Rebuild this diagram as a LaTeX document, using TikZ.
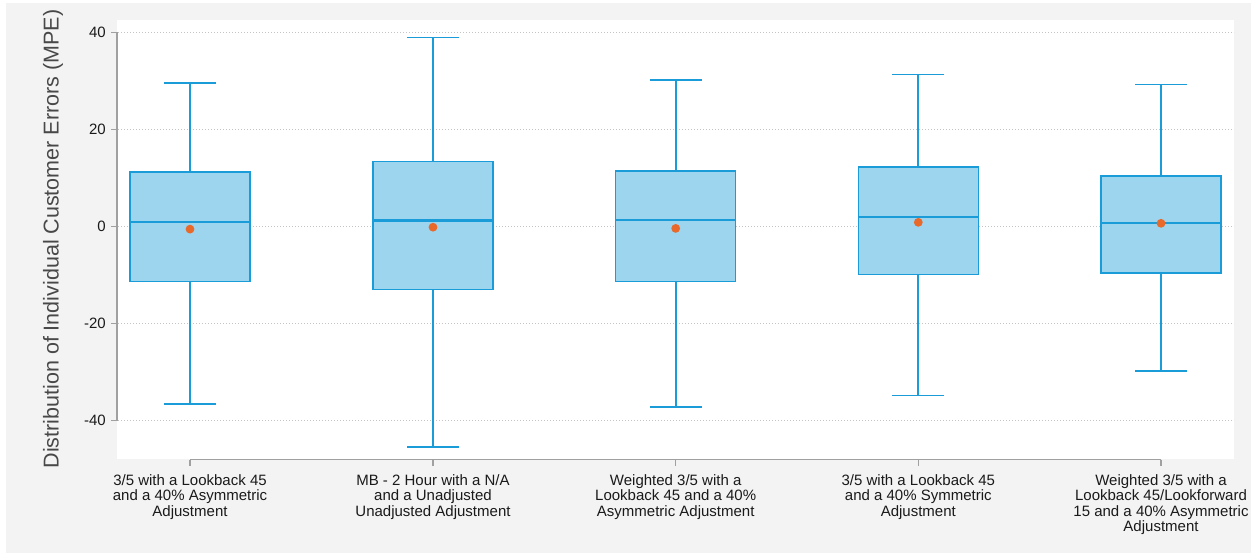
\documentclass[tikz,border=0pt]{standalone}
\usepackage{fontspec}
\setmainfont{Liberation Sans}
\definecolor{bgc}{HTML}{F3F3F3}
\definecolor{boxfill}{HTML}{9DD4EE}
\definecolor{boxedge}{HTML}{1A9CD8}
\definecolor{meanc}{HTML}{E8692A}
\definecolor{gridc}{HTML}{C4C4C4}
\definecolor{axisc}{HTML}{A0A0A0}
\definecolor{txtc}{HTML}{1A1A1A}
\tikzset{
  gridline/.style={gridc, line width=1.1pt, dash pattern=on 1pt off 2pt},
  axisline/.style={axisc, line width=1.3pt},
  medline/.style={boxedge, line width=2.4pt},
  whisk/.style={boxedge, line width=1.8pt},
  meandot/.style={circle, fill=meanc, inner sep=0pt, minimum size=8.8pt},
  ticklab/.style={anchor=east, inner sep=0pt, text=txtc, font=\fontsize{15}{17}\selectfont},
  catlab/.style={anchor=north, inner sep=0pt, align=center, text=txtc, font=\fontsize{15}{15.5}\selectfont},
}
\newcommand{\mybox}[8]{%
  \fill[boxfill] (#1-60,#3) rectangle (#1+60,#5);
  \draw[whisk] (#1,#5) -- (#1,#6);
  \draw[whisk] (#1-26,#6) -- (#1+26,#6);
  \draw[whisk] (#1,#3) -- (#1,#2);
  \draw[whisk] (#1-26,#2) -- (#1+26,#2);
  \draw[medline] (#1-60,#4) -- (#1+60,#4);
  \draw[boxedge, line width=1.4pt] (#1-60,#3) rectangle (#1+60,#5);
  \node[meandot] (#8) at (#1,#7) {};
}
\begin{document}
\begin{tikzpicture}[x=1pt,y=-1pt]
\useasboundingbox (0,0) rectangle (1251,554);
\fill[white] (0,0) rectangle (1251,554);
\fill[bgc] (6,3) rectangle (1251,553);
\fill[white] (117,20) rectangle (1234,459);
\begin{scope}[yshift=-226.7pt, y=4.85pt]
  \foreach \v in {40,20,0,-20,-40} {
    \draw[gridline] (118,\v) -- (1234,\v);
    \draw[axisline] (111,\v) -- (117,\v);
    \node[ticklab] (t\v) at (106,\v) {\v};
  }
  \draw[axisline] (117,40.1) -- (117,-40.1);
  \mybox{190}{-36.6}{-11.3}{1.0}{11.3}{29.6}{-0.5}{m1}
  \mybox{433}{-45.5}{-13.0}{1.25}{13.4}{39.0}{-0.1}{m2}
  \mybox{675.7}{-37.2}{-11.3}{1.4}{11.5}{30.3}{-0.35}{m3}
  \mybox{918.3}{-34.8}{-9.8}{2.05}{12.3}{31.4}{0.9}{m4}
  \mybox{1161}{-29.7}{-9.55}{0.75}{10.45}{29.3}{0.7}{m5}
\end{scope}
\draw[axisline] (190,459.5) -- (1161,459.5);
\foreach \x in {190,433,675.7,918.3,1161} \draw[axisline] (\x,459.5) -- (\x,466);
\node[catlab] (c1) at (190,474) {3/5 with a Lookback 45\\and a 40\% Asymmetric\\Adjustment};
\node[catlab] (c2) at (433,474) {MB - 2 Hour with a N/A\\and a Unadjusted\\Unadjusted Adjustment};
\node[catlab] (c3) at (675.7,474) {Weighted 3/5 with a\\Lookback 45 and a 40\%\\Asymmetric Adjustment};
\node[catlab] (c4) at (918.3,474) {3/5 with a Lookback 45\\and a 40\% Symmetric\\Adjustment};
\node[catlab] (c5) at (1161,474) {Weighted 3/5 with a\\Lookback 45/Lookforward\\15 and a 40\% Asymmetric\\Adjustment};
\node[rotate=90, inner sep=0pt, text=txtc!80!white, font=\fontsize{21.5}{24}\selectfont] (ytitle) at (53,239) {Distribution of Individual Customer Errors (MPE)};
\end{tikzpicture}
\end{document}
